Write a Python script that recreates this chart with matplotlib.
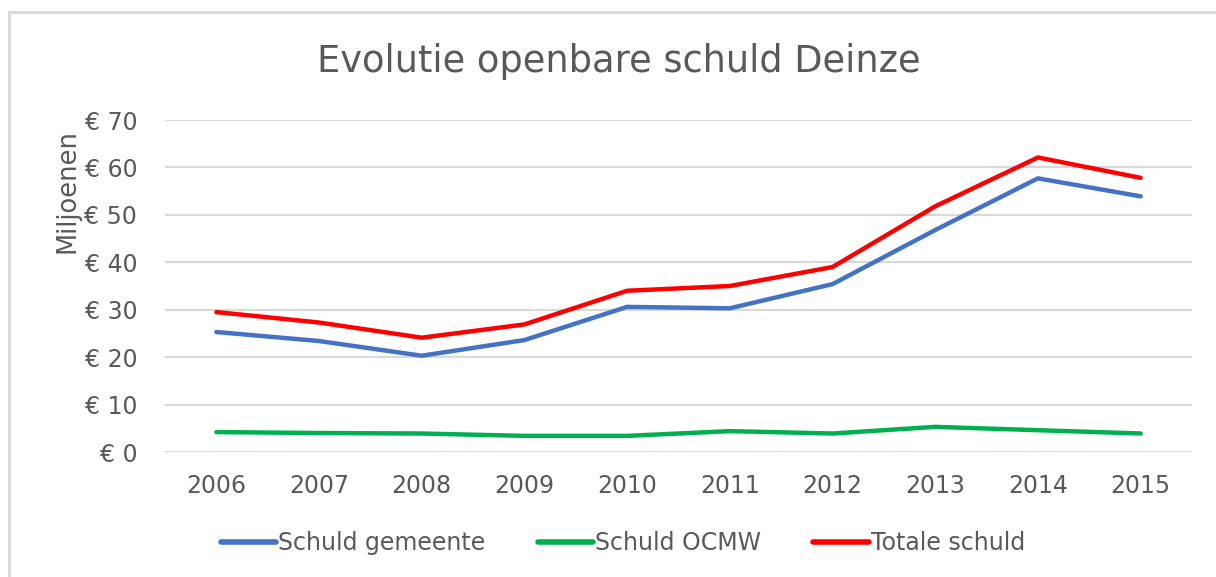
import matplotlib
matplotlib.use("Agg")
import matplotlib.pyplot as plt
from matplotlib.lines import Line2D

# data (in miljoenen euro)
years = ["2006", "2007", "2008", "2009", "2010", "2011", "2012", "2013", "2014", "2015"]
schuld_gemeente = [25.3, 23.4, 20.3, 23.6, 30.6, 30.3, 35.4, 46.8, 57.7, 53.9]
schuld_ocmw = [4.2, 4.0, 3.9, 3.4, 3.4, 4.4, 3.9, 5.3, 4.6, 3.9]
totale_schuld = [29.5, 27.3, 24.1, 26.9, 34.0, 35.0, 39.0, 51.8, 62.1, 57.8]
y_ticks = [0, 10, 20, 30, 40, 50, 60, 70]

text_color = "#595959"
grid_color = "#d9d9d9"

fig = plt.figure(figsize=(12.16, 5.77), dpi=100, facecolor="white")
ax = fig.add_axes([165 / 1216, 1 - 452 / 577, (1192 - 165) / 1216, (452 - 120) / 577])

x = range(len(years))
ax.plot(x, schuld_gemeente, color="#4472C4", lw=3.2, solid_capstyle="round", label="Schuld gemeente")
ax.plot(x, schuld_ocmw, color="#00B050", lw=3.2, solid_capstyle="round", label="Schuld OCMW")
ax.plot(x, totale_schuld, color="#FF0000", lw=3.2, solid_capstyle="round", label="Totale schuld")

ax.set_xlim(-0.5, len(years) - 0.5)
ax.set_ylim(0, 70)
ax.set_yticks(y_ticks)
ax.set_yticklabels(["€ %d" % v for v in y_ticks])
ax.set_xticks(list(x))
ax.set_xticklabels(years)
ax.yaxis.grid(True, color=grid_color, lw=1.5)
ax.set_axisbelow(True)
for s in ax.spines.values():
    s.set_visible(False)
ax.tick_params(length=0, labelsize=17, labelcolor=text_color)
ax.tick_params(axis="x", pad=16)
ax.tick_params(axis="y", pad=20)
ax.set_ylabel("Miljoenen", fontsize=18.5, color=text_color, labelpad=3)
ax.yaxis.label.set_y(0.785)

fig.text(619 / 1216, 1 - 62 / 577, "Evolutie openbare schuld Deinze", fontsize=26.5, color=text_color,
         ha="center", va="center")

leg = ax.legend(loc="center", bbox_to_anchor=(623 / 1216, 1 - 543 / 577),
                bbox_transform=fig.transFigure, ncol=3, frameon=False, fontsize=17,
                handlelength=2.35, handletextpad=0.1, columnspacing=2.2)
for t in leg.get_texts():
    t.set_color(text_color)
for h in leg.get_lines():
    h.set_linewidth(4)

# light frame around the chart
fig.add_artist(Line2D([9 / 1216, 1], [1 - 12 / 577, 1 - 12 / 577], color=grid_color, lw=2,
                      transform=fig.transFigure))
fig.add_artist(Line2D([9 / 1216, 9 / 1216], [0, 1 - 12 / 577], color=grid_color, lw=2,
                      transform=fig.transFigure))

fig.savefig("out.png", dpi=100, facecolor="white")
